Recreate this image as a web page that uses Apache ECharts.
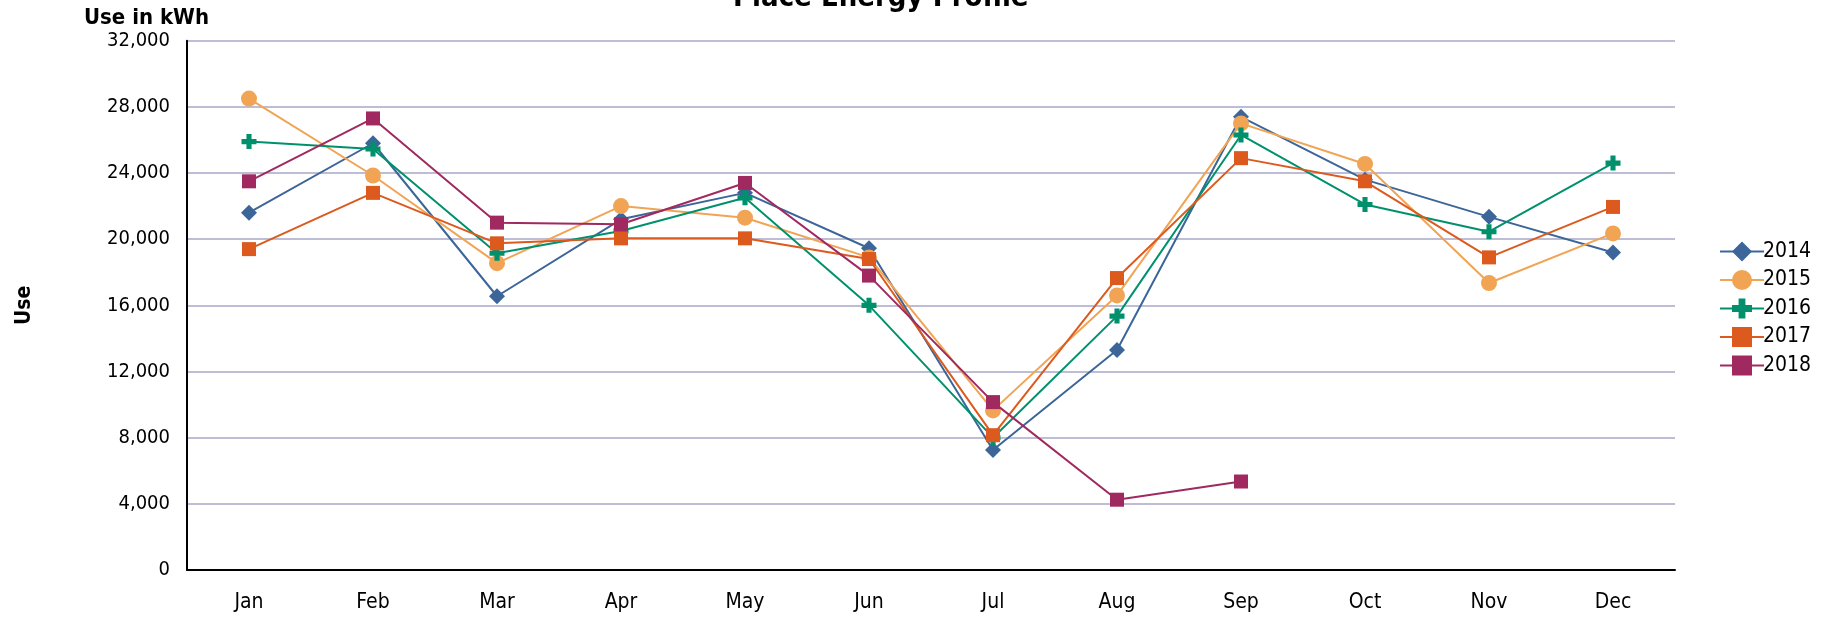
<!DOCTYPE html>
<html>
<head>
<meta charset="utf-8">
<title>Place Energy Profile</title>
<script src="https://cdn.jsdelivr.net/npm/echarts@6/dist/echarts.min.js"></script>
<style>
	html, body { margin: 0; padding: 0; background: #fff; }
	#energy_chart { width: 1824px; height: 618px; }
</style>
</head>
<body>
<div id="energy_chart"></div>
<script>
// data
var months = ['Jan', 'Feb', 'Mar', 'Apr', 'May', 'Jun', 'Jul', 'Aug', 'Sep', 'Oct', 'Nov', 'Dec'];
var years = ['2014', '2015', '2016', '2017', '2018'];
var use2014 = [21600, 25800, 16550, 21200, 22800, 19450, 7250, 13300, 27400, 23600, 21350, 19200];
var use2015 = [28500, 23850, 18550, 22000, 21300, 18900, 9650, 16600, 27000, 24550, 17350, 20350];
var use2016 = [25900, 25450, 19150, 20500, 22500, 16000, 8000, 15350, 26300, 22100, 20450, 24600];
var use2017 = [19400, 22800, 19750, 20050, 20050, 18800, 8150, 17650, 24900, 23500, 18900, 21950];
var use2018 = [23500, 27300, 21000, 20900, 23400, 17800, 10150, 4250, 5350, null, null, null];
var yTicks = [0, 4000, 8000, 12000, 16000, 20000, 24000, 28000, 32000];

(function() {
	var font = "'DejaVu Sans Condensed', 'DejaVu Sans', sans-serif";
	var plus = 'path://M3.3,0 H6.7 V3.3 H10 V6.7 H6.7 V10 H3.3 V6.7 H0 V3.3 H3.3 Z';

	// one style per year: colour, marker, marker size
	var looks = [
		{ color: '#3c6699', symbol: 'diamond', size: 16 },
		{ color: '#f0a454', symbol: 'circle', size: 16 },
		{ color: '#00916c', symbol: plus, size: 15 },
		{ color: '#dc5a1e', symbol: 'rect', size: 14 },
		{ color: '#a02a5f', symbol: 'rect', size: 14 }
	];
	var values = [use2014, use2015, use2016, use2017, use2018];

	var series = [];
	for (var i = 0; i < years.length; i++) {
		series.push({
			name: years[i],
			type: 'line',
			data: values[i],
			symbol: looks[i].symbol,
			symbolSize: looks[i].size,
			showAllSymbol: true,
			connectNulls: false,
			z: 2 + i,
			lineStyle: { color: looks[i].color, width: 2 },
			itemStyle: { color: looks[i].color },
			emphasis: { disabled: true }
		});
	}

	var chart = echarts.init(document.getElementById('energy_chart'), null, { renderer: 'canvas' });

	var options = {
		animation: false,
		backgroundColor: '#ffffff',
		textStyle: { fontFamily: font, color: '#000' },

		grid: {
			left: 187,
			right: 149,
			top: 40.7,
			bottom: 48,
			containLabel: false,
			outerBoundsMode: 'none'
		},

		// title sits mostly above the top edge, like the original
		graphic: [{
			type: 'text',
			left: 733,
			top: -16,
			style: {
				text: 'Place Energy Profile',
				fill: '#000',
				font: 'bold 29px ' + font
			}
		}, {
			type: 'text',
			left: 84,
			top: 7,
			style: {
				text: 'Use in kWh',
				fill: '#000',
				font: 'bold 22px ' + font
			}
		}],

		legend: {
			orient: 'vertical',
			left: 1714,
			top: 236,
			itemWidth: 44,
			itemHeight: 25,
			itemGap: 7.5,
			data: years,
			textStyle: { fontSize: 21, color: '#000', fontFamily: font, padding: [0, 0, 0, -6] }
		},

		xAxis: {
			type: 'category',
			data: months,
			boundaryGap: true,
			axisLine: { show: true, lineStyle: { color: '#000', width: 2 } },
			axisTick: { show: false },
			axisLabel: { margin: 22, fontSize: 21, color: '#000', fontFamily: font },
			splitLine: { show: false }
		},

		yAxis: {
			type: 'value',
			min: yTicks[0],
			max: yTicks[yTicks.length - 1],
			interval: yTicks[1] - yTicks[0],
			name: 'Use',
			nameLocation: 'middle',
			nameRotate: 90,
			nameGap: 152,
			nameTextStyle: { fontSize: 21, fontWeight: 'bold', color: '#000', fontFamily: font },
			axisLine: { show: true, lineStyle: { color: '#000', width: 2 } },
			axisTick: { show: false },
			axisLabel: {
				margin: 17,
				fontSize: 20,
				color: '#000',
				fontFamily: font,
				formatter: function(v) {
					return v.toString().replace(/\B(?=(\d{3})+(?!\d))/g, ',');
				}
			},
			splitLine: { show: true, lineStyle: { color: '#bdbdd6', width: 2 } }
		},

		series: series
	};

	chart.setOption(options);
})();
</script>
</body>
</html>
